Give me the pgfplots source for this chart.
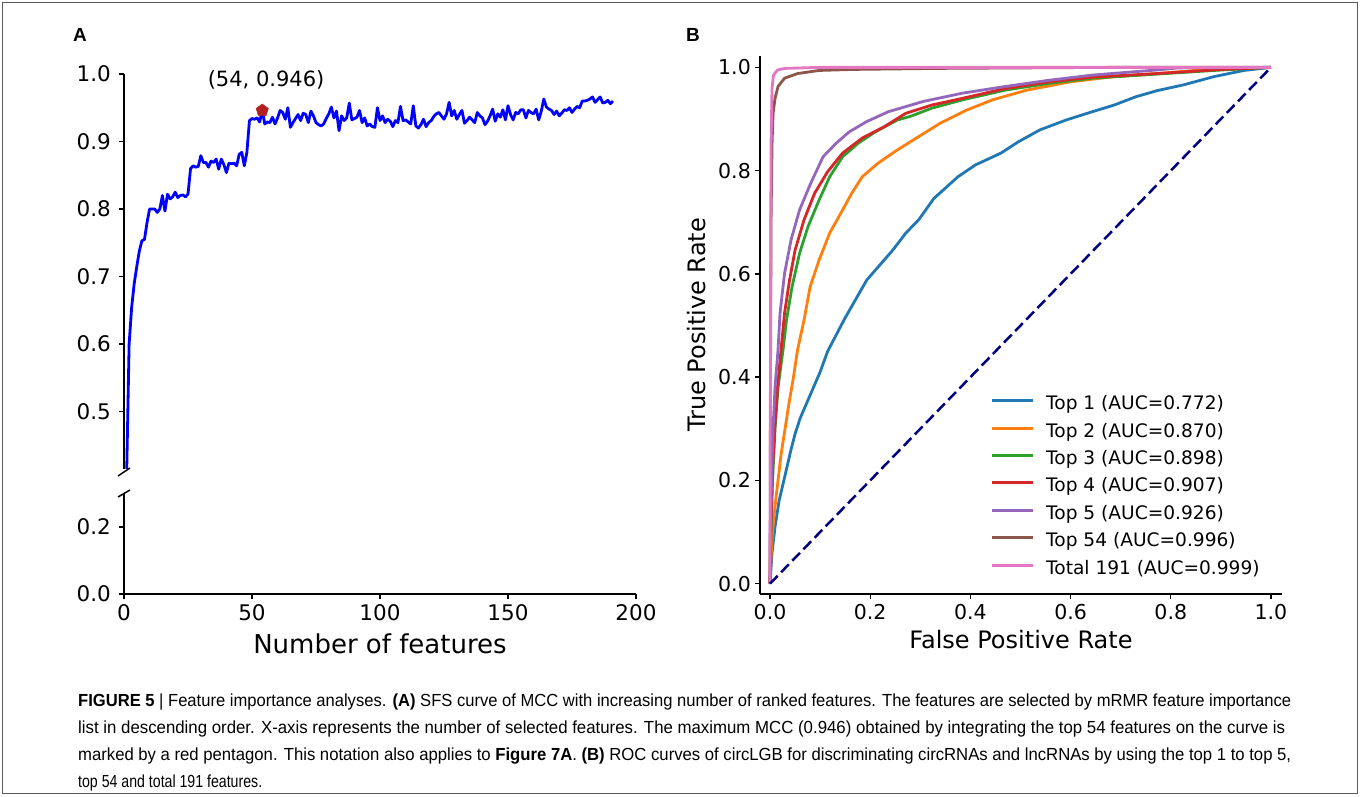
\documentclass[border=0pt]{standalone}
\usepackage{pgfplots}
\pgfplotsset{compat=1.18}
\usepackage{graphicx}
\usepackage{fontspec}
\setmainfont{DejaVu Sans}
\newfontfamily\capfont{Liberation Sans}
\definecolor{c1}{HTML}{1F77B4}
\definecolor{c2}{HTML}{FF7F0E}
\definecolor{c3}{HTML}{2CA02C}
\definecolor{c4}{HTML}{D62728}
\definecolor{c5}{HTML}{9467BD}
\definecolor{c6}{HTML}{8C564B}
\definecolor{c7}{HTML}{E377C2}
\definecolor{navyc}{HTML}{000080}
\definecolor{fire}{HTML}{B22222}
\definecolor{mcblue}{HTML}{0000FF}
\pgfplotsset{
  mystyle/.style={
    scale only axis,
    tick align=outside,
    major tick length=5pt,
    every tick/.style={line width=1.3pt, black},
    axis line style={line width=1.8pt, black, -},
    tick label style={font=\fontsize{20.5}{24}\selectfont, inner sep=0pt},
    /pgf/number format/assume math mode=true,
    yticklabel style={anchor=east, xshift=-4pt},
    xticklabel style={anchor=north, yshift=-5pt},
  },
  astyle/.style={
    tick label style={font=\fontsize{21.5}{25}\selectfont},
    yticklabel style={xshift=-4pt},
  },
  onedec/.style={/pgf/number format/.cd, fixed, fixed zerofill, precision=1},
}
\begin{document}
\begin{tikzpicture}
\useasboundingbox (0pt,0pt) rectangle (1360pt,796pt);
\draw[line width=1.2pt, black!65] (2.5pt,2.5pt) rectangle (1357.5pt,793.5pt);
\node[font=\capfont\bfseries\fontsize{19}{22}\selectfont] at (80pt,761pt) {A};
\node[font=\capfont\bfseries\fontsize{19}{22}\selectfont] at (693pt,761pt) {B};

% ---------- Panel A, upper part ----------
\begin{axis}[mystyle, astyle, at={(124pt,327pt)}, anchor=south west,
  width=512pt, height=395pt, xmin=0, xmax=200, ymin=0.415, ymax=1.0,
  axis x line=none, axis y line*=left,
  ytick={0.5,0.6,0.7,0.8,0.9,1.0}, yticklabel style={onedec},
  clip mode=individual]
\addplot[mcblue, line width=2.8pt, line join=round] coordinates {
(1,0.40)(2,0.60)(3,0.655)(4,0.69)(5,0.715)(6,0.738)(7,0.753)(8,0.755)(9,0.78)(10,0.80)
(11,0.80)(12,0.80)(13,0.795)(14,0.80)(15,0.82)(16,0.797)(17,0.822)(18,0.815)(19,0.818)(20,0.825)
(21,0.817)(22,0.82)(23,0.821)(24,0.818)(25,0.822)(26,0.86)(27,0.864)(28,0.862)(29,0.863)(30,0.879)
(31,0.869)(32,0.869)(33,0.862)(34,0.871)(35,0.869)(36,0.874)(37,0.859)(38,0.874)(39,0.866)(40,0.854)
(41,0.868)(42,0.867)(43,0.868)(44,0.864)(45,0.881)(46,0.884)(47,0.864)(48,0.884)(49,0.931)(50,0.934)
(51,0.933)(52,0.935)(53,0.929)(54,0.946)(55,0.926)(56,0.929)(57,0.928)(58,0.936)(59,0.926)(60,0.935)
(61,0.946)(62,0.943)(63,0.933)(64,0.95)(65,0.921)(66,0.928)(67,0.934)(68,0.94)(69,0.931)(70,0.942)
(71,0.94)(72,0.928)(73,0.945)(74,0.938)(75,0.928)(76,0.925)(77,0.923)(78,0.926)(79,0.934)(80,0.941)
(81,0.951)(82,0.935)(83,0.945)(84,0.916)(85,0.938)(86,0.931)(87,0.935)(88,0.957)(89,0.932)(90,0.934)
(91,0.936)(92,0.946)(93,0.928)(94,0.935)(95,0.923)(96,0.926)(97,0.922)(98,0.921)(99,0.95)(100,0.931)
(101,0.938)(102,0.928)(103,0.933)(104,0.93)(105,0.922)(106,0.931)(107,0.928)(108,0.952)(109,0.931)(110,0.932)
(111,0.929)(112,0.926)(113,0.953)(114,0.923)(115,0.92)(116,0.925)(117,0.933)(118,0.922)(119,0.928)(120,0.931)
(121,0.937)(122,0.941)(123,0.943)(124,0.938)(125,0.933)(126,0.941)(127,0.958)(128,0.938)(129,0.946)(130,0.933)
(131,0.94)(132,0.946)(133,0.927)(134,0.931)(135,0.936)(136,0.932)(137,0.928)(138,0.943)(139,0.938)(140,0.935)
(141,0.925)(142,0.93)(143,0.938)(144,0.948)(145,0.93)(146,0.941)(147,0.936)(148,0.947)(149,0.932)(150,0.953)
(151,0.94)(152,0.932)(153,0.943)(154,0.941)(155,0.947)(156,0.947)(157,0.935)(158,0.946)(159,0.943)(160,0.941)
(161,0.948)(162,0.932)(163,0.945)(164,0.963)(165,0.951)(166,0.948)(167,0.946)(168,0.94)(169,0.945)(170,0.938)
(171,0.942)(172,0.947)(173,0.946)(174,0.95)(175,0.943)(176,0.948)(177,0.952)(178,0.95)(179,0.96)(180,0.96)
(181,0.961)(182,0.963)(183,0.966)(184,0.958)(185,0.962)(186,0.966)(187,0.957)(188,0.958)(189,0.961)(190,0.956)
(191,0.96)};
\addplot[only marks, mark=pentagon*, mark size=6.5pt, color=fire] coordinates {(54,0.946)};
\node[font=\fontsize{21}{24}\selectfont] at (axis cs:55.5,0.991) {(54, 0.946)};
\end{axis}
\draw[line width=1.5pt] (118pt,320pt) -- (130pt,328pt);

% ---------- Panel A, lower part ----------
\begin{axis}[mystyle, astyle, at={(124pt,202pt)}, anchor=south west,
  width=512pt, height=100.5pt, xmin=0, xmax=200, ymin=0, ymax=0.3,
  axis x line*=bottom, axis y line*=left,
  xtick={0,50,100,150,200}, ytick={0,0.2}, yticklabel style={onedec},
  xlabel={Number of features},
  xlabel style={at={(axis description cs:0.5,-0.4975)}, anchor=center, font=\fontsize{26}{30}\selectfont}]
\addplot[draw=none] coordinates {(0,0)};
\end{axis}
\draw[line width=1.5pt] (118pt,299pt) -- (130pt,306pt);

% ---------- Panel B ----------
\begin{axis}[mystyle, at={(760pt,202pt)}, anchor=south west,
  width=522pt, height=538pt, xmin=-0.02, xmax=1.022, ymin=-0.02, ymax=1.022,
  axis x line*=bottom, axis y line*=left,
  xtick={0,0.2,0.4,0.6,0.8,1}, ytick={0,0.2,0.4,0.6,0.8,1},
  xticklabel style={onedec}, yticklabel style={onedec},
  xlabel={False Positive Rate}, ylabel={True Positive Rate},
  xlabel style={at={(axis description cs:0.5,-0.0855)}, anchor=center, font=\fontsize{24}{28}\selectfont},
  ylabel style={at={(axis description cs:-0.1207,0.5)}, anchor=center, font=\fontsize{24}{28}\selectfont},
  legend style={at={(0.4406,0.367)}, anchor=north west, draw=none, fill=none,
    inner sep=0pt, row sep=10.4pt, column sep=12pt,
    font=\fontsize{18.6}{22}\selectfont,
    nodes={inner sep=0pt, text height=13pt, text depth=4pt, anchor=west}},
  legend cell align=left,
  legend image code/.code={\draw[#1, line width=3pt] (0pt,4.5pt) -- (41pt,4.5pt);},
  line join=round]
\addplot[c1, line width=2.8pt] coordinates {(0,0)(0.004,0.06)(0.01,0.11)(0.018,0.16)(0.03,0.21)(0.042,0.26)(0.05,0.29)(0.06,0.32)(0.08,0.365)(0.1,0.41)(0.115,0.45)(0.15,0.515)(0.193,0.588)(0.245,0.646)(0.271,0.679)(0.297,0.705)(0.327,0.746)(0.375,0.788)(0.41,0.811)(0.461,0.834)(0.496,0.856)(0.539,0.879)(0.591,0.898)(0.643,0.914)(0.687,0.927)(0.73,0.943)(0.773,0.955)(0.825,0.966)(0.886,0.982)(0.946,0.994)(1,1)};
\addlegendentry{Top 1 (AUC=0.772)}
\addplot[c2, line width=2.8pt] coordinates {(0,0)(0.002,0.05)(0.005,0.1)(0.01,0.15)(0.016,0.2)(0.022,0.25)(0.03,0.3)(0.038,0.35)(0.046,0.395)(0.055,0.453)(0.068,0.511)(0.08,0.575)(0.098,0.627)(0.119,0.679)(0.141,0.717)(0.163,0.756)(0.184,0.788)(0.215,0.814)(0.254,0.84)(0.297,0.866)(0.34,0.892)(0.392,0.917)(0.444,0.937)(0.513,0.956)(0.6,0.972)(0.687,0.982)(0.773,0.988)(0.86,0.995)(1,1)};
\addlegendentry{Top 2 (AUC=0.870)}
\addplot[c3, line width=2.8pt] coordinates {(0,0)(0.002,0.1)(0.005,0.2)(0.01,0.3)(0.016,0.38)(0.026,0.453)(0.033,0.511)(0.044,0.575)(0.059,0.64)(0.076,0.692)(0.098,0.743)(0.119,0.788)(0.145,0.827)(0.176,0.853)(0.21,0.875)(0.254,0.898)(0.28,0.905)(0.323,0.921)(0.384,0.937)(0.47,0.956)(0.557,0.969)(0.643,0.979)(0.773,0.987)(0.903,0.995)(1,1)};
\addlegendentry{Top 3 (AUC=0.898)}
\addplot[c4, line width=2.8pt] coordinates {(0,0)(0.002,0.12)(0.005,0.22)(0.01,0.31)(0.015,0.38)(0.022,0.453)(0.029,0.524)(0.039,0.588)(0.05,0.646)(0.068,0.705)(0.089,0.756)(0.115,0.798)(0.145,0.834)(0.184,0.863)(0.228,0.885)(0.271,0.911)(0.323,0.927)(0.384,0.94)(0.47,0.959)(0.557,0.972)(0.643,0.981)(0.773,0.988)(0.903,0.996)(1,1)};
\addlegendentry{Top 4 (AUC=0.907)}
\addplot[c5, line width=2.8pt] coordinates {(0,0)(0.001,0.1)(0.003,0.2)(0.006,0.3)(0.01,0.38)(0.016,0.453)(0.02,0.524)(0.029,0.601)(0.042,0.666)(0.059,0.724)(0.081,0.775)(0.106,0.827)(0.132,0.853)(0.158,0.875)(0.193,0.895)(0.236,0.914)(0.306,0.934)(0.384,0.95)(0.47,0.963)(0.557,0.975)(0.643,0.985)(0.773,0.995)(0.816,0.999)(1,1)};
\addlegendentry{Top 5 (AUC=0.926)}
\addplot[c6, line width=2.8pt] coordinates {(0,0)(0.001,0.4)(0.002,0.7)(0.004,0.85)(0.006,0.91)(0.01,0.94)(0.016,0.963)(0.029,0.979)(0.055,0.988)(0.098,0.994)(0.167,0.996)(0.34,0.998)(0.69,1.0)(1,1)};
\addlegendentry{Top 54 (AUC=0.996)}
\addplot[c7, line width=2.8pt] coordinates {(0,0)(0.001,0.5)(0.002,0.85)(0.004,0.96)(0.007,0.985)(0.015,0.995)(0.03,0.998)(0.1,1.0)(1,1)};
\addlegendentry{Total 191 (AUC=0.999)}
\addplot[navyc, line width=2.5pt, dash pattern=on 11pt off 5pt, forget plot] coordinates {(0,0)(1,1)};
\end{axis}

% ---------- caption ----------
\begin{scope}[every node/.style={anchor=base west, inner sep=0pt, font=\capfont\fontsize{17.5}{20}\selectfont}]
\node at (78pt,90pt) {\resizebox{1213pt}{\height}{\textbf{FIGURE 5} | Feature importance analyses. \textbf{(A)} SFS curve of MCC with increasing number of ranked features. The features are selected by mRMR feature importance}};
\node at (78pt,63pt) {\resizebox{1207pt}{\height}{list in descending order. X-axis represents the number of selected features. The maximum MCC (0.946) obtained by integrating the top 54 features on the curve is}};
\node at (78pt,36pt) {\resizebox{1213pt}{\height}{marked by a red pentagon. This notation also applies to \textbf{Figure 7A}. \textbf{(B)} ROC curves of circLGB for discriminating circRNAs and lncRNAs by using the top 1 to top 5,}};
\node at (78pt,9pt) {\resizebox{184pt}{\height}{top 54 and total 191 features.}};
\end{scope}
\end{tikzpicture}
\end{document}
